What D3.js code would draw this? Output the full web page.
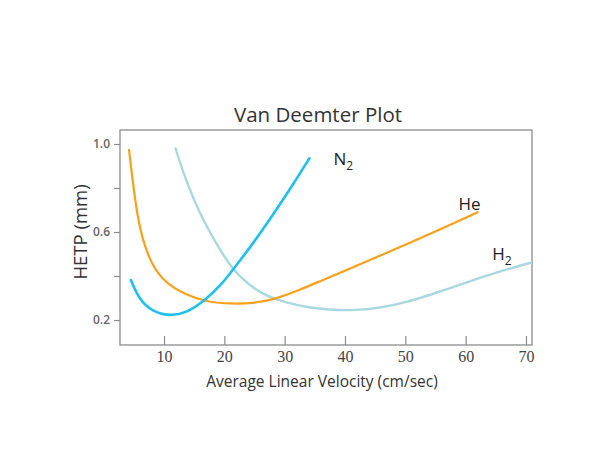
<!DOCTYPE html>
<html>
<head>
<meta charset="utf-8">
<script src="https://cdn.jsdelivr.net/npm/d3@7/dist/d3.min.js"></script>
<style>
  html, body { margin: 0; padding: 0; background: #fff; }
  svg { display: block; }
</style>
</head>
<body>
<svg id="chart" width="602" height="455"></svg>
<script>
// Van Deemter curves: HETP (mm) against average linear velocity (cm/sec)
const n2Velocity = [4.5, 5.9, 8.1, 10.8, 13.6, 16.9, 19.7, 21.3, 24.0, 27.0, 30.8, 34.1];
const n2Hetp     = [0.382, 0.291, 0.238, 0.218, 0.230, 0.291, 0.367, 0.425, 0.520, 0.635, 0.790, 0.935];

const heVelocity = [4.2, 5.3, 6.4, 8.1, 10.3, 13.6, 16.9, 21.3, 24.7, 28.0, 32.4, 36.0, 40.0, 45.0, 50.0, 55.0, 62.0];
const heHetp     = [0.973, 0.715, 0.564, 0.442, 0.367, 0.314, 0.283, 0.273, 0.276, 0.291, 0.336, 0.378, 0.424, 0.483, 0.542, 0.602, 0.690];

const h2Velocity = [11.9, 13.6, 15.8, 18.6, 21.3, 24.0, 26.9, 30.0, 34.0, 38.0, 42.0, 46.0, 50.0, 54.0, 58.0, 62.0, 66.0, 71.0];
const h2Hetp     = [0.980, 0.836, 0.690, 0.549, 0.430, 0.360, 0.310, 0.280, 0.256, 0.245, 0.244, 0.256, 0.280, 0.313, 0.350, 0.388, 0.424, 0.462];

const xTickValues = [10, 20, 30, 40, 50, 60, 70];
const yTickValues = [0.2, 0.4, 0.6, 0.8, 1.0];
const yTickLabels = ["0.2", "", "0.6", "", "1.0"];

const seriesNames = ["N", "He", "H"];
const seriesSubs  = ["2", "", "2"];

const svg = d3.select("#chart");
const plot = { left: 120, top: 130, right: 532, bottom: 345 };

const x = d3.scaleLinear().domain([2.7, 71]).range([plot.left, plot.right]);
const y = d3.scaleLinear().domain([0.0864, 1.0636]).range([plot.bottom, plot.top]);

const sans = "'Open Sans', 'DejaVu Sans', sans-serif";

// title
svg.append("text")
  .attr("x", 318)
  .attr("y", 122)
  .attr("text-anchor", "middle")
  .style("font-family", sans)
  .style("font-size", "20.5px")
  .style("fill", "#333")
  .text("Van Deemter Plot");

// clip region for the curves
svg.append("defs").append("clipPath").attr("id", "plot-clip")
  .append("rect")
  .attr("x", plot.left).attr("y", plot.top)
  .attr("width", plot.right - plot.left).attr("height", plot.bottom - plot.top);

// x axis: ticks point up into the plot
const xAxis = d3.axisBottom(x).tickValues(xTickValues).tickSize(-9).tickPadding(6).tickFormat(d3.format("d"));
const gx = svg.append("g").attr("transform", `translate(0,${plot.bottom})`).call(xAxis);
gx.select(".domain").remove();
gx.selectAll(".tick line").attr("stroke", "#8c8c8c").attr("stroke-width", 1.2);
gx.selectAll(".tick text")
  .style("font-family", "'Liberation Serif', 'Times New Roman', serif")
  .style("font-size", "16px")
  .style("fill", "#444");

// y axis: ticks point outward
const yAxis = d3.axisLeft(y).tickValues(yTickValues).tickSize(6).tickPadding(4)
  .tickFormat((d, i) => yTickLabels[i]);
const gy = svg.append("g").attr("transform", `translate(${plot.left},0)`).call(yAxis);
gy.select(".domain").remove();
gy.selectAll(".tick line").attr("stroke", "#8c8c8c").attr("stroke-width", 1.2);
gy.selectAll(".tick text")
  .style("font-family", sans)
  .style("font-size", "12px")
  .style("font-weight", "600")
  .style("fill", "#666");

// frame
svg.append("rect")
  .attr("x", plot.left).attr("y", plot.top)
  .attr("width", plot.right - plot.left).attr("height", plot.bottom - plot.top)
  .attr("fill", "none").attr("stroke", "#8c8c8c").attr("stroke-width", 1.3);

// axis titles
svg.append("text")
  .attr("x", 322)
  .attr("y", 387)
  .attr("text-anchor", "middle")
  .style("font-family", sans)
  .style("font-size", "15.5px")
  .style("fill", "#333")
  .text("Average Linear Velocity (cm/sec)");

svg.append("text")
  .attr("transform", "translate(87,232) rotate(-90)")
  .attr("text-anchor", "middle")
  .style("font-family", sans)
  .style("font-size", "18.5px")
  .style("fill", "#333")
  .text("HETP (mm)");

// curves
const line = d3.line().x(d => x(d[0])).y(d => y(d[1])).curve(d3.curveBasis);
const curves = [
  { v: h2Velocity, h: h2Hetp, color: "#a9d8e0", width: 2.4 },
  { v: heVelocity, h: heHetp, color: "#f9a11b", width: 2.2 },
  { v: n2Velocity, h: n2Hetp, color: "#1ec0f0", width: 2.6 }
];
const gCurves = svg.append("g").attr("clip-path", "url(#plot-clip)");
curves.forEach(c => {
  gCurves.append("path")
    .datum(d3.zip(c.v, c.h))
    .attr("d", line)
    .attr("fill", "none")
    .attr("stroke", c.color)
    .attr("stroke-width", c.width)
    .attr("stroke-linecap", "round");
});

// curve labels, placed beside the end of each curve
const labelAnchor = [
  [n2Velocity[n2Velocity.length - 1] + 4.0, n2Hetp[n2Hetp.length - 1] - 0.03],
  [heVelocity[heVelocity.length - 1] - 3.2, heHetp[heHetp.length - 1] + 0.01],
  [h2Velocity[h2Velocity.length - 1] - 6.6, h2Hetp[h2Hetp.length - 1] + 0.013]
];
seriesNames.forEach((name, i) => {
  const t = svg.append("text")
    .attr("x", x(labelAnchor[i][0]))
    .attr("y", y(labelAnchor[i][1]))
    .style("font-family", sans)
    .style("font-size", "17px")
    .style("fill", "#222");
  t.append("tspan").text(name);
  if (seriesSubs[i]) {
    t.append("tspan").attr("dy", 5).style("font-size", "12px").text(seriesSubs[i]);
  }
});
</script>
</body>
</html>
